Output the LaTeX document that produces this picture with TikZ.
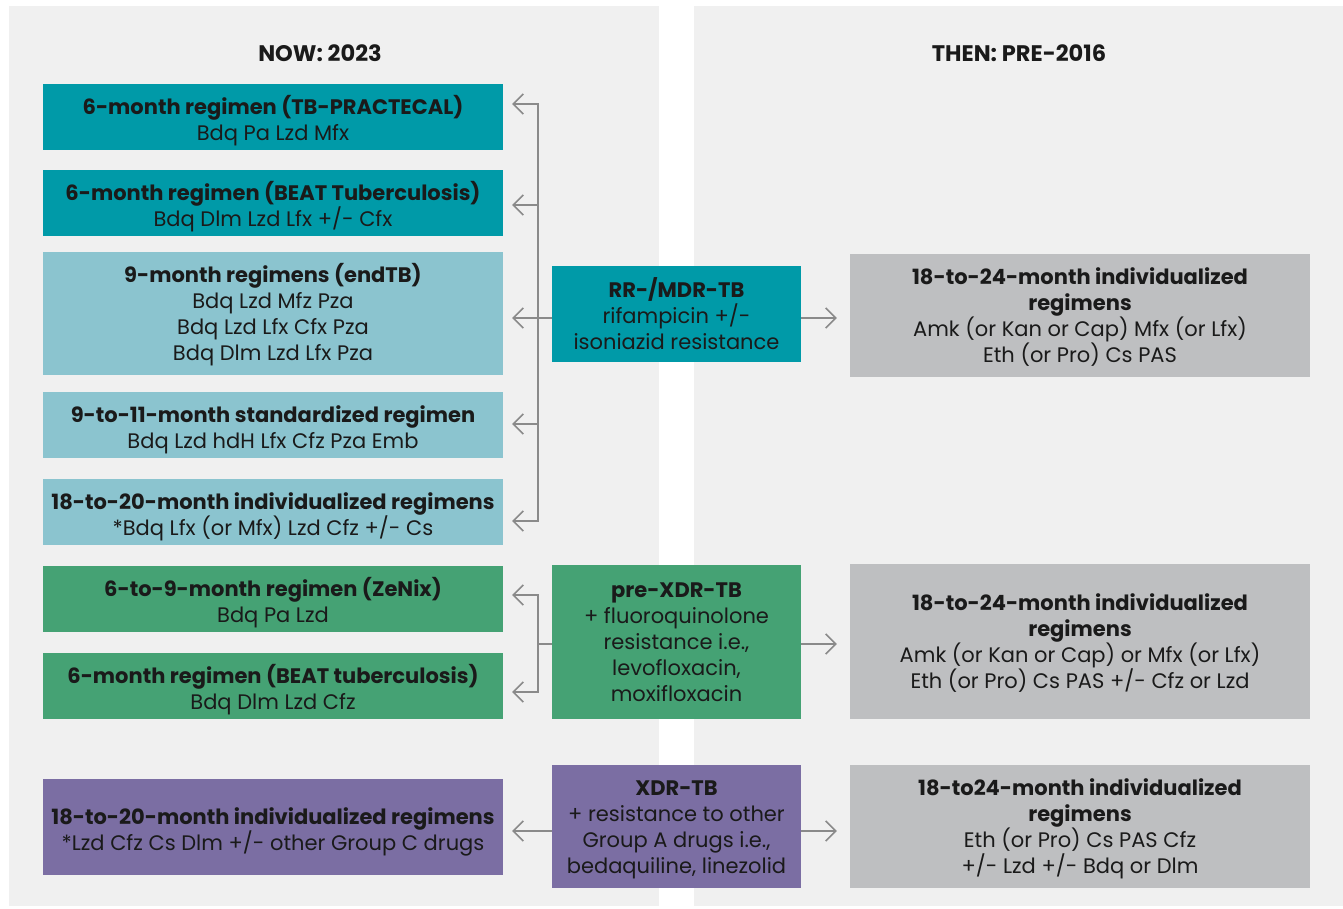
\documentclass[tikz,border=0pt]{standalone}
\usepackage{fontspec}
\setmainfont{Poppins}
\usetikzlibrary{arrows.meta,calc}
\definecolor{panelbg}{HTML}{F0F0F0}
\definecolor{teal}{HTML}{009AA8}
\definecolor{lblue}{HTML}{8BC4CF}
\definecolor{tgreen}{HTML}{45A274}
\definecolor{tpurple}{HTML}{7B6EA3}
\definecolor{tgray}{HTML}{BEBFC1}
\definecolor{lnc}{HTML}{8A8A8A}
\definecolor{txt}{HTML}{1A1A1A}
\begin{document}
\begin{tikzpicture}[x=1pt,y=-1pt,
  box/.style={draw=none, inner sep=0pt, align=center, text=txt,
    font=\fontsize{21}{26}\selectfont},
  two/.style={text height=52pt},
  four/.style={text height=99pt},
  lbox/.style={box, minimum width=460pt},
  mbox/.style={box, minimum width=249pt},
  hdr/.style={font=\fontsize{22.5}{24}\selectfont\bfseries, text=txt},
  conn/.style={draw=lnc, line width=1.6pt},
  arr/.style={conn, -{Straight Barb[length=10pt,width=20pt,line width=1.6pt]}, shorten >=9pt}
]
\useasboundingbox (0,0) rectangle (1343,909);
\fill[white] (0,0) rectangle (1343,909);
\fill[panelbg] (9,6) rectangle (659,906);
\fill[panelbg] (694,6) rectangle (1343,906);

\node[hdr] (now) at (320,53) {NOW: 2023};
\node[hdr] (then) at (1019,53) {THEN: PRE-2016};

% left column
\node[lbox, two, fill=teal, minimum height=66pt] (b1) at (273,117)
  {\textbf{6-month regimen (TB-PRACTECAL)}\\Bdq Pa Lzd Mfx};
\node[lbox, two, fill=teal, minimum height=66pt] (b2) at (273,203)
  {\textbf{6-month regimen (BEAT Tuberculosis)}\\Bdq Dlm Lzd Lfx +/- Cfx};
\node[lbox, four, fill=lblue, minimum height=123pt] (b3) at (273,313.5)
  {\textbf{9-month regimens (endTB)}\\Bdq Lzd Mfz Pza\\Bdq Lzd Lfx Cfx Pza\\Bdq Dlm Lzd Lfx Pza};
\node[lbox, two, fill=lblue, minimum height=66pt] (b4) at (273,425)
  {\textbf{9-to-11-month standardized regimen}\\Bdq Lzd hdH Lfx Cfz Pza Emb};
\node[lbox, two, fill=lblue, minimum height=66pt] (b5) at (273,512)
  {\textbf{18-to-20-month individualized regimens}\\*Bdq Lfx (or Mfx) Lzd Cfz +/- Cs};
\node[lbox, two, fill=tgreen, minimum height=66pt] (b6) at (273,599)
  {\textbf{6-to-9-month regimen (ZeNix)}\\Bdq Pa Lzd};
\node[lbox, two, fill=tgreen, minimum height=66pt] (b7) at (273,686)
  {\textbf{6-month regimen (BEAT tuberculosis)}\\Bdq Dlm Lzd Cfz};
\node[lbox, two, fill=tpurple, minimum height=96pt] (b8) at (273,827)
  {\textbf{18-to-20-month individualized regimens}\\*Lzd Cfz Cs Dlm +/- other Group C drugs};

% middle column
\node[mbox, fill=teal, minimum height=96pt] (rr) at (676.5,314)
  {\textbf{RR-/MDR-TB}\\rifampicin +/-\\isoniazid resistance};
\node[mbox, fill=tgreen, minimum height=154pt] (pre) at (676.5,642)
  {\textbf{pre-XDR-TB}\\+ fluoroquinolone\\resistance i.e.,\\levofloxacin,\\moxifloxacin};
\node[mbox, four, fill=tpurple, minimum height=123pt] (xdr) at (676.5,826.5)
  {\textbf{XDR-TB}\\+ resistance to other\\Group A drugs i.e.,\\bedaquiline, linezolid};

% right column
\node[lbox, fill=tgray, minimum height=123pt, text height=97pt] (g1) at (1080,315.5)
  {\textbf{18-to-24-month individualized}\\\textbf{regimens}\\Amk (or Kan or Cap) Mfx (or Lfx)\\Eth (or Pro) Cs PAS};
\node[lbox, fill=tgray, minimum height=155pt, text height=97pt] (g2) at (1080,641.5)
  {\textbf{18-to-24-month individualized}\\\textbf{regimens}\\Amk (or Kan or Cap) or Mfx (or Lfx)\\Eth (or Pro) Cs PAS +/- Cfz or Lzd};
\node[lbox, four, fill=tgray, minimum height=123pt] (g3) at (1080,826.5)
  {\textbf{18-to24-month individualized}\\\textbf{regimens}\\Eth (or Pro) Cs PAS Cfz\\+/- Lzd +/- Bdq or Dlm};

% connectors: RR/MDR
\coordinate (t1) at (538,318);
\draw[conn] (rr.west |- t1) -- (t1);
\draw[arr] (t1) |- (b1.east |- 0,104);
\draw[arr] (t1) |- (b2.east |- 0,205);
\draw[arr] (t1) -- (b3.east |- t1);
\draw[arr] (t1) |- (b4.east |- 0,424);
\draw[arr] (t1) |- (b5.east |- 0,521);
\draw[arr] (rr.east |- t1) -- ([xshift=-4pt]g1.west |- t1);

% pre-XDR
\coordinate (t2) at (538,644);
\draw[conn] (pre.west |- t2) -- (t2);
\draw[arr] (t2) |- (b6.east |- 0,595);
\draw[arr] (t2) |- (b7.east |- 0,692);
\draw[arr] (pre.east |- t2) -- ([xshift=-4pt]g2.west |- t2);

% XDR
\coordinate (t3) at (0,831);
\draw[arr] (xdr.west |- t3) -- (b8.east |- t3);
\draw[arr] (xdr.east |- t3) -- ([xshift=-4pt]g3.west |- t3);
\end{tikzpicture}
\end{document}
